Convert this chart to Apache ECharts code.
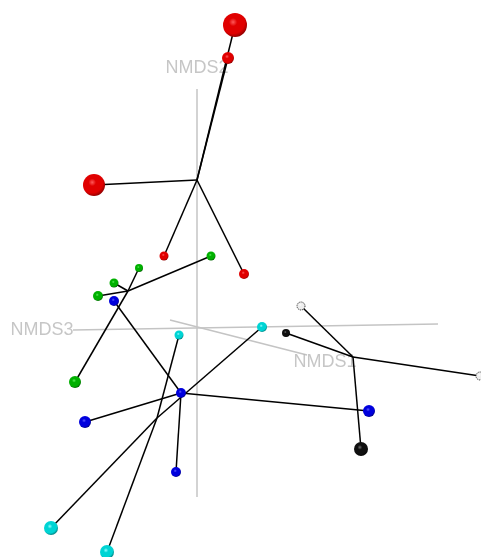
<!DOCTYPE html>
<html>
<head>
<meta charset="utf-8">
<script src="https://cdn.jsdelivr.net/npm/echarts@6/dist/echarts.min.js"></script>
<style>
  html, body { margin: 0; padding: 0; background: #ffffff; }
  #chart { width: 481px; height: 557px; }
</style>
</head>
<body>
<div id="chart"></div>
<script>
// Projected NMDS ordination (view plane coordinates), one group per colour.
const redX   = [0.38, 0.31, -1.03, -0.33, 0.47];
const redY   = [3.05, 2.72, 1.45, 0.74, 0.56];
const redCentroid = [0.00, 1.50];

const greenX = [0.14, -0.58, -0.83, -0.99, -1.22];
const greenY = [0.74, 0.62, 0.47, 0.34, -0.52];
const greenCentroid = [-0.69, 0.39];

const blueX  = [-0.83, -1.12, -0.21, 1.72, -0.16];
const blueY  = [0.29, -0.92, -1.42, -0.81, -0.63];
const blueCentroid = [-0.16, -0.63];

const cyanX  = [0.65, -0.18, -1.46, -0.90];
const cyanY  = [0.03, -0.05, -1.98, -2.22];
const cyanCentroid = [-0.40, -0.88];

const blackX = [1.04, 0.89, 2.83, 1.64];
const blackY = [0.24, -0.03, -0.46, -1.19];
const blackCentroid = [1.56, -0.27];

// Axis segments of the 3-D frame, projected onto the view plane
const axisNames = ['NMDS1', 'NMDS2', 'NMDS3'];
const axisFrom  = [[-0.27, 0.10], [0.00, -1.67], [-1.24, 0.00]];
const axisTo    = [[1.10, -0.25], [0.00, 2.41], [2.41, 0.06]];
const axisLabelAt = [[1.28, -0.32], [0.00, 2.62], [-1.55, 0.00]];

// Sphere radii (perspective depth cue), same order as the coordinates
const redR   = [12, 6, 11, 4.5, 5];
const greenR = [4.5, 4, 4.5, 5, 6];
const blueR  = [5, 6, 5, 6, 5];
const cyanR  = [5, 4.5, 7, 7];
const blackR = [4, 4, 4, 7];

const palette = {
  red:   ['#ff5a5a', '#e00000', '#7a0000'],
  green: ['#5af05a', '#00b000', '#005000'],
  blue:  ['#5a5aff', '#0000dd', '#000068'],
  cyan:  ['#90ffff', '#00d4d4', '#006868'],
  black: ['#707070', '#101010', '#000000']
};

function sphere(cols) {
  return {
    type: 'radial', x: 0.42, y: 0.38, r: 0.68,
    colorStops: [
      { offset: 0, color: cols[0] },
      { offset: 0.25, color: cols[1] },
      { offset: 0.7, color: cols[1] },
      { offset: 1, color: cols[2] }
    ]
  };
}

const groups = [
  { key: 'red',   xs: redX,   ys: redY,   c: redCentroid,   r: redR },
  { key: 'green', xs: greenX, ys: greenY, c: greenCentroid, r: greenR },
  { key: 'blue',  xs: blueX,  ys: blueY,  c: blueCentroid,  r: blueR },
  { key: 'cyan',  xs: cyanX,  ys: cyanY,  c: cyanCentroid,  r: cyanR },
  { key: 'black', xs: blackX, ys: blackY, c: blackCentroid, r: blackR }
];

// Grey frame axes
const frameLines = axisFrom.map((p, i) => ({ coords: [p, axisTo[i]] }));

// Spokes from each site to its group centroid
const spokes = [];
groups.forEach(g => {
  g.xs.forEach((x, i) => {
    spokes.push({ coords: [g.c, [x, g.ys[i]]] });
  });
});

const series = [
  {
    type: 'lines', coordinateSystem: 'cartesian2d', z: 1,
    lineStyle: { color: '#c4c4c4', width: 1.5, opacity: 1 },
    data: frameLines, silent: true
  },
  {
    type: 'scatter', z: 2, symbolSize: 0, silent: true,
    data: axisLabelAt.map((p, i) => ({ value: p, name: axisNames[i] })),
    label: {
      show: true, position: 'inside', formatter: '{b}',
      color: '#b8b8b8', fontSize: 18, fontFamily: 'Liberation Sans, Arial, sans-serif'
    }
  },
  {
    type: 'lines', coordinateSystem: 'cartesian2d', z: 3,
    lineStyle: { color: '#000000', width: 1.5, opacity: 1 },
    data: spokes, silent: true
  }
];

// Pale "black" group sites rendered as light spheres with dotted rims
const paleBlack = [0, 2];

groups.forEach(g => {
  series.push({
    type: 'scatter', z: 4, silent: true,
    data: g.xs.map((x, i) => {
      const item = { value: [x, g.ys[i]], symbolSize: g.r[i] * 2 };
      if (g.key === 'black' && paleBlack.indexOf(i) >= 0) {
        item.itemStyle = {
          color: sphere(['#ffffff', '#eeeeee', '#9a9a9a']),
          borderColor: '#222', borderWidth: 1, borderType: 'dotted', opacity: 1
        };
      }
      return item;
    }),
    itemStyle: { color: sphere(palette[g.key]), opacity: 1 }
  });
});

const chart = echarts.init(document.getElementById('chart'), null, { renderer: 'canvas' });
chart.setOption({
  backgroundColor: '#ffffff',
  animation: false,
  grid: { left: 0, right: 0, top: 0, bottom: 0 },
  xAxis: { type: 'value', min: -1.97, max: 2.84, show: false },
  yAxis: { type: 'value', min: -2.27, max: 3.30, show: false },
  series: series
});
</script>
</body>
</html>
